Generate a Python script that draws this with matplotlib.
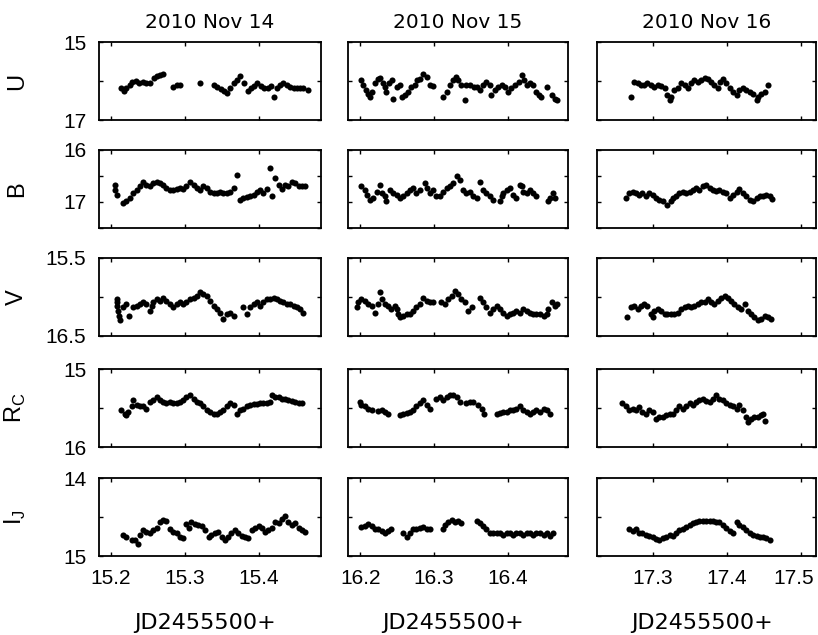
import matplotlib
matplotlib.use("Agg")
import matplotlib.pyplot as plt
import matplotlib.transforms as mtransforms

# night titles and axis limits
nights = ['2010 Nov 14', '2010 Nov 15', '2010 Nov 16']
jd_ranges = [(15.184, 15.484), (16.183, 16.482), (17.225, 17.52)]
jd_ticks = [[15.2, 15.3, 15.4], [16.2, 16.3, 16.4], [17.3, 17.4, 17.5]]

bands = ['U', 'B', 'V', r'R$_\mathregular{C}$', r'I$_\mathregular{J}$']
mag_ranges = [(15, 17), (16, 17.5), (15.5, 16.5), (15, 16), (14, 15)]
mag_ticks = [[15, 16, 17], [16, 16.5, 17, 17.5], [15.5, 16, 16.5], [15, 15.5, 16], [14, 14.5, 15]]
mag_ticklabels = [['15', '', '17'], ['16', '', '17', ''], ['15.5', '', '16.5'], ['15', '', '16'], ['14', '', '15']]

# ---- 2010 Nov 14 ----
jd_u14 = [15.214, 15.218, 15.221, 15.226, 15.229, 15.234, 15.238, 15.243, 15.248, 15.253,
          15.258, 15.263, 15.267, 15.271, 15.284, 15.289, 15.293, 15.320, 15.339, 15.344,
          15.349, 15.353, 15.357, 15.361, 15.366, 15.370, 15.375, 15.380, 15.385, 15.389,
          15.394, 15.398, 15.403, 15.407, 15.412, 15.416, 15.420, 15.424, 15.429, 15.433,
          15.438, 15.442, 15.447, 15.451, 15.456, 15.460, 15.466]
mag_u14 = [16.19, 16.25, 16.17, 16.11, 16.02, 16.00, 16.05, 16.02, 16.06, 16.05,
           15.91, 15.86, 15.85, 15.81, 16.15, 16.11, 16.11, 16.05, 16.11, 16.15,
           16.20, 16.25, 16.30, 16.17, 16.06, 15.98, 15.88, 16.06, 16.25, 16.18,
           16.13, 16.06, 16.13, 16.18, 16.17, 16.13, 16.40, 16.17, 16.10, 16.05,
           16.11, 16.15, 16.19, 16.17, 16.19, 16.17, 16.22]

jd_b14 = [15.205, 15.206, 15.208, 15.217, 15.220, 15.226, 15.230, 15.235, 15.239, 15.244,
          15.248, 15.253, 15.257, 15.262, 15.266, 15.271, 15.275, 15.280, 15.284, 15.289,
          15.293, 15.298, 15.302, 15.307, 15.312, 15.316, 15.321, 15.325, 15.330, 15.334,
          15.339, 15.343, 15.348, 15.352, 15.357, 15.361, 15.366, 15.370, 15.375, 15.379,
          15.384, 15.388, 15.393, 15.397, 15.402, 15.406, 15.411, 15.415, 15.418, 15.422,
          15.427, 15.431, 15.436, 15.440, 15.445, 15.449, 15.454, 15.458, 15.463]
mag_b14 = [16.67, 16.77, 16.86, 17.02, 16.99, 16.93, 16.83, 16.77, 16.70, 16.61,
           16.67, 16.70, 16.64, 16.61, 16.64, 16.67, 16.73, 16.77, 16.77, 16.75,
           16.73, 16.75, 16.70, 16.61, 16.67, 16.73, 16.77, 16.70, 16.73, 16.80,
           16.83, 16.83, 16.80, 16.83, 16.82, 16.80, 16.73, 16.48, 16.96, 16.93,
           16.91, 16.88, 16.86, 16.80, 16.77, 16.82, 16.75, 16.35, 16.89, 16.54,
           16.67, 16.75, 16.67, 16.70, 16.61, 16.64, 16.69, 16.69, 16.70]

jd_v14 = [15.208, 15.209, 15.209, 15.210, 15.211, 15.212, 15.217, 15.221, 15.225, 15.230,
          15.235, 15.239, 15.244, 15.248, 15.253, 15.255, 15.257, 15.262, 15.266, 15.271,
          15.275, 15.280, 15.284, 15.289, 15.293, 15.298, 15.302, 15.307, 15.312, 15.316,
          15.321, 15.325, 15.330, 15.334, 15.339, 15.343, 15.348, 15.352, 15.357, 15.361,
          15.366, 15.379, 15.384, 15.388, 15.393, 15.397, 15.402, 15.406, 15.411, 15.415,
          15.420, 15.424, 15.429, 15.433, 15.438, 15.442, 15.447, 15.451, 15.456, 15.460]
mag_v14 = [16.03, 16.07, 16.11, 16.18, 16.24, 16.30, 16.13, 16.09, 16.24, 16.13,
           16.11, 16.09, 16.07, 16.09, 16.18, 16.11, 16.07, 16.03, 16.05, 16.01,
           16.05, 16.09, 16.13, 16.09, 16.06, 16.09, 16.07, 16.03, 16.01, 15.99,
           15.94, 15.96, 15.99, 16.05, 16.11, 16.15, 16.20, 16.28, 16.22, 16.20,
           16.24, 16.13, 16.22, 16.13, 16.09, 16.07, 16.11, 16.07, 16.03, 16.03,
           16.01, 16.03, 16.05, 16.07, 16.09, 16.09, 16.11, 16.13, 16.15, 16.20]

jd_r14 = [15.214, 15.219, 15.221, 15.223, 15.228, 15.230, 15.235, 15.239, 15.244, 15.248,
          15.253, 15.257, 15.262, 15.266, 15.271, 15.275, 15.280, 15.284, 15.289, 15.293,
          15.298, 15.302, 15.307, 15.312, 15.316, 15.321, 15.325, 15.330, 15.334, 15.339,
          15.343, 15.348, 15.352, 15.357, 15.361, 15.366, 15.370, 15.375, 15.379, 15.384,
          15.388, 15.393, 15.397, 15.402, 15.406, 15.411, 15.415, 15.418, 15.422, 15.427,
          15.431, 15.436, 15.440, 15.445, 15.449, 15.454, 15.458]
mag_r14 = [15.53, 15.57, 15.59, 15.55, 15.48, 15.40, 15.46, 15.48, 15.48, 15.51,
           15.42, 15.40, 15.36, 15.40, 15.42, 15.44, 15.42, 15.44, 15.44, 15.42,
           15.40, 15.36, 15.33, 15.38, 15.42, 15.44, 15.48, 15.53, 15.55, 15.57,
           15.57, 15.55, 15.53, 15.48, 15.44, 15.46, 15.57, 15.53, 15.51, 15.48,
           15.46, 15.45, 15.45, 15.44, 15.44, 15.43, 15.42, 15.33, 15.36, 15.36,
           15.38, 15.38, 15.40, 15.41, 15.42, 15.44, 15.44]

jd_i14 = [15.217, 15.221, 15.228, 15.233, 15.237, 15.239, 15.244, 15.248, 15.253, 15.257,
          15.262, 15.266, 15.271, 15.275, 15.280, 15.284, 15.289, 15.293, 15.298, 15.302,
          15.305, 15.309, 15.314, 15.318, 15.323, 15.327, 15.332, 15.336, 15.341, 15.345,
          15.350, 15.354, 15.359, 15.363, 15.368, 15.372, 15.377, 15.381, 15.386, 15.391,
          15.395, 15.400, 15.404, 15.409, 15.413, 15.418, 15.422, 15.427, 15.431, 15.436,
          15.440, 15.445, 15.449, 15.454, 15.458, 15.463]
mag_i14 = [14.73, 14.76, 14.79, 14.79, 14.84, 14.73, 14.67, 14.69, 14.71, 14.67,
           14.64, 14.57, 14.54, 14.55, 14.66, 14.69, 14.71, 14.75, 14.77, 14.59,
           14.64, 14.56, 14.59, 14.60, 14.61, 14.67, 14.76, 14.73, 14.71, 14.69,
           14.76, 14.79, 14.75, 14.71, 14.67, 14.71, 14.74, 14.76, 14.77, 14.67,
           14.64, 14.61, 14.64, 14.69, 14.67, 14.64, 14.56, 14.58, 14.52, 14.49,
           14.56, 14.60, 14.58, 14.64, 14.67, 14.69]

# ---- 2010 Nov 15 ----
jd_u15 = [16.201, 16.204, 16.207, 16.210, 16.213, 16.215, 16.220, 16.224, 16.226, 16.230,
          16.233, 16.235, 16.239, 16.243, 16.244, 16.249, 16.254, 16.257, 16.260, 16.265,
          16.269, 16.274, 16.277, 16.281, 16.285, 16.290, 16.294, 16.299, 16.312, 16.317,
          16.322, 16.326, 16.330, 16.333, 16.337, 16.342, 16.344, 16.349, 16.354, 16.358,
          16.362, 16.367, 16.371, 16.376, 16.378, 16.383, 16.387, 16.392, 16.396, 16.401,
          16.405, 16.410, 16.415, 16.419, 16.422, 16.426, 16.430, 16.435, 16.439, 16.442,
          16.446, 16.453, 16.460, 16.464, 16.467]
mag_u15 = [15.98, 16.11, 16.23, 16.32, 16.40, 16.28, 16.06, 15.94, 15.91, 16.05,
           16.15, 16.28, 16.06, 15.98, 16.45, 16.15, 16.11, 16.40, 16.36, 16.28,
           16.15, 16.11, 15.98, 15.94, 15.83, 15.89, 16.11, 16.13, 16.40, 16.28,
           16.11, 15.98, 15.89, 15.98, 16.11, 16.49, 16.11, 16.11, 16.15, 16.15,
           16.23, 16.11, 16.02, 16.11, 16.36, 16.23, 16.15, 16.11, 16.15, 16.28,
           16.19, 16.11, 16.02, 15.85, 15.98, 16.11, 16.06, 16.11, 16.28, 16.36,
           16.40, 16.15, 16.36, 16.45, 16.49]

jd_b15 = [16.201, 16.206, 16.209, 16.213, 16.217, 16.222, 16.226, 16.229, 16.233, 16.235,
          16.240, 16.244, 16.249, 16.254, 16.258, 16.263, 16.267, 16.272, 16.276, 16.281,
          16.288, 16.291, 16.294, 16.299, 16.303, 16.308, 16.312, 16.317, 16.322, 16.326,
          16.331, 16.335, 16.340, 16.344, 16.349, 16.353, 16.358, 16.362, 16.367, 16.371,
          16.376, 16.380, 16.390, 16.392, 16.394, 16.399, 16.403, 16.408, 16.412, 16.417,
          16.419, 16.421, 16.426, 16.430, 16.435, 16.439, 16.455, 16.458, 16.462, 16.464]
mag_b15 = [16.70, 16.77, 16.86, 16.96, 16.93, 16.80, 16.67, 16.83, 16.89, 16.99,
           16.77, 16.83, 16.86, 16.93, 16.89, 16.83, 16.77, 16.73, 16.83, 16.77,
           16.64, 16.73, 16.83, 16.77, 16.89, 16.89, 16.80, 16.73, 16.70, 16.63,
           16.51, 16.57, 16.77, 16.83, 16.80, 16.89, 16.93, 16.61, 16.77, 16.83,
           16.89, 16.96, 16.99, 16.89, 16.83, 16.77, 16.73, 16.86, 16.93, 16.67,
           16.70, 16.80, 16.83, 16.77, 16.83, 16.89, 16.99, 16.93, 16.83, 16.93]

jd_v15 = [16.195, 16.197, 16.201, 16.206, 16.210, 16.215, 16.220, 16.224, 16.226, 16.229,
          16.233, 16.238, 16.242, 16.247, 16.249, 16.251, 16.254, 16.258, 16.263, 16.267,
          16.272, 16.276, 16.281, 16.285, 16.290, 16.294, 16.299, 16.310, 16.315, 16.319,
          16.324, 16.328, 16.333, 16.337, 16.342, 16.346, 16.351, 16.362, 16.367, 16.371,
          16.376, 16.380, 16.385, 16.390, 16.394, 16.399, 16.403, 16.408, 16.412, 16.417,
          16.421, 16.426, 16.430, 16.435, 16.439, 16.444, 16.449, 16.453, 16.455, 16.460,
          16.464, 16.467]
mag_v15 = [16.13, 16.07, 16.03, 16.05, 16.09, 16.11, 16.20, 16.09, 15.94, 16.03,
           16.09, 16.11, 16.15, 16.11, 16.15, 16.22, 16.26, 16.24, 16.22, 16.22,
           16.18, 16.13, 16.09, 16.01, 16.05, 16.07, 16.07, 16.07, 16.09, 16.03,
           15.99, 15.92, 15.96, 16.03, 16.07, 16.18, 16.13, 16.01, 16.07, 16.13,
           16.20, 16.15, 16.11, 16.15, 16.20, 16.24, 16.22, 16.20, 16.18, 16.20,
           16.15, 16.18, 16.20, 16.22, 16.22, 16.22, 16.24, 16.22, 16.15, 16.07,
           16.11, 16.09]

jd_r15 = [16.199, 16.201, 16.206, 16.210, 16.215, 16.224, 16.229, 16.233, 16.238, 16.254,
          16.258, 16.263, 16.267, 16.272, 16.276, 16.281, 16.285, 16.290, 16.294, 16.303,
          16.308, 16.312, 16.317, 16.322, 16.326, 16.331, 16.335, 16.344, 16.349, 16.353,
          16.360, 16.365, 16.368, 16.385, 16.390, 16.394, 16.399, 16.403, 16.408, 16.412,
          16.417, 16.421, 16.426, 16.430, 16.435, 16.439, 16.444, 16.449, 16.453, 16.458]
mag_r15 = [15.42, 15.46, 15.48, 15.51, 15.52, 15.54, 15.53, 15.55, 15.57, 15.59,
           15.57, 15.56, 15.55, 15.52, 15.48, 15.44, 15.40, 15.46, 15.51, 15.38,
           15.36, 15.40, 15.36, 15.33, 15.33, 15.36, 15.42, 15.44, 15.42, 15.42,
           15.46, 15.51, 15.57, 15.57, 15.56, 15.55, 15.55, 15.53, 15.53, 15.51,
           15.48, 15.52, 15.55, 15.57, 15.55, 15.53, 15.55, 15.51, 15.53, 15.57]

jd_i15 = [16.201, 16.206, 16.210, 16.215, 16.220, 16.224, 16.229, 16.233, 16.238, 16.242,
          16.258, 16.263, 16.267, 16.272, 16.276, 16.281, 16.285, 16.290, 16.294, 16.312,
          16.315, 16.319, 16.324, 16.328, 16.333, 16.337, 16.358, 16.362, 16.367, 16.371,
          16.376, 16.380, 16.385, 16.390, 16.394, 16.399, 16.403, 16.408, 16.412, 16.417,
          16.421, 16.426, 16.430, 16.435, 16.439, 16.444, 16.449, 16.453, 16.458, 16.462]
mag_i15 = [14.63, 14.61, 14.59, 14.62, 14.66, 14.66, 14.68, 14.70, 14.68, 14.66,
           14.71, 14.76, 14.70, 14.66, 14.66, 14.64, 14.63, 14.66, 14.66, 14.66,
           14.60, 14.56, 14.54, 14.57, 14.55, 14.58, 14.55, 14.58, 14.62, 14.66,
           14.70, 14.71, 14.71, 14.71, 14.73, 14.71, 14.71, 14.73, 14.71, 14.71,
           14.73, 14.71, 14.71, 14.73, 14.71, 14.71, 14.73, 14.71, 14.74, 14.70]

# ---- 2010 Nov 16 ----
jd_u16 = [17.271, 17.275, 17.280, 17.284, 17.289, 17.293, 17.298, 17.302, 17.307, 17.311,
          17.316, 17.320, 17.323, 17.325, 17.329, 17.334, 17.338, 17.343, 17.347, 17.352,
          17.356, 17.361, 17.365, 17.370, 17.374, 17.379, 17.383, 17.388, 17.391, 17.395,
          17.399, 17.404, 17.408, 17.413, 17.417, 17.422, 17.426, 17.431, 17.435, 17.440,
          17.442, 17.446, 17.451, 17.455]
mag_u16 = [16.40, 16.02, 16.06, 16.11, 16.11, 16.06, 16.11, 16.15, 16.11, 16.13,
           16.19, 16.36, 16.49, 16.40, 16.23, 16.17, 16.06, 16.11, 16.19, 16.06,
           15.98, 16.02, 15.98, 15.91, 15.94, 16.02, 16.11, 16.19, 16.02, 15.94,
           16.06, 16.19, 16.28, 16.36, 16.23, 16.19, 16.23, 16.28, 16.32, 16.49,
           16.40, 16.32, 16.28, 16.11]

jd_b16 = [17.264, 17.268, 17.273, 17.277, 17.282, 17.286, 17.291, 17.295, 17.300, 17.305,
          17.309, 17.314, 17.320, 17.325, 17.327, 17.332, 17.336, 17.341, 17.345, 17.350,
          17.354, 17.359, 17.363, 17.368, 17.372, 17.377, 17.381, 17.386, 17.390, 17.395,
          17.399, 17.404, 17.408, 17.413, 17.417, 17.422, 17.426, 17.431, 17.435, 17.440,
          17.444, 17.449, 17.453, 17.458, 17.461]
mag_b16 = [16.93, 16.83, 16.80, 16.83, 16.86, 16.83, 16.89, 16.83, 16.86, 16.93,
           16.96, 16.99, 17.05, 16.99, 16.93, 16.89, 16.83, 16.80, 16.82, 16.80,
           16.77, 16.73, 16.77, 16.70, 16.67, 16.73, 16.77, 16.78, 16.77, 16.80,
           16.83, 16.93, 16.86, 16.80, 16.75, 16.83, 16.89, 16.96, 16.99, 16.93,
           16.89, 16.89, 16.86, 16.89, 16.94]

jd_v16 = [17.266, 17.271, 17.275, 17.280, 17.284, 17.289, 17.293, 17.298, 17.300, 17.302,
          17.307, 17.311, 17.316, 17.320, 17.325, 17.329, 17.334, 17.338, 17.343, 17.347,
          17.352, 17.356, 17.361, 17.365, 17.370, 17.374, 17.379, 17.383, 17.388, 17.392,
          17.397, 17.401, 17.406, 17.410, 17.415, 17.419, 17.424, 17.428, 17.433, 17.437,
          17.442, 17.446, 17.451, 17.455, 17.460]
mag_v16 = [16.26, 16.13, 16.11, 16.15, 16.12, 16.09, 16.11, 16.22, 16.26, 16.18,
           16.15, 16.18, 16.22, 16.22, 16.22, 16.22, 16.20, 16.15, 16.13, 16.11,
           16.13, 16.11, 16.09, 16.07, 16.07, 16.03, 16.06, 16.09, 16.05, 16.02,
           15.99, 16.01, 16.05, 16.09, 16.13, 16.15, 16.09, 16.18, 16.22, 16.26,
           16.29, 16.28, 16.24, 16.26, 16.28]

jd_r16 = [17.259, 17.264, 17.268, 17.273, 17.277, 17.282, 17.286, 17.291, 17.295, 17.300,
          17.305, 17.309, 17.314, 17.318, 17.323, 17.327, 17.332, 17.336, 17.341, 17.345,
          17.350, 17.354, 17.359, 17.363, 17.368, 17.372, 17.377, 17.381, 17.386, 17.390,
          17.395, 17.399, 17.404, 17.408, 17.413, 17.417, 17.422, 17.426, 17.428, 17.433,
          17.437, 17.442, 17.446, 17.449, 17.451]
mag_r16 = [15.43, 15.48, 15.52, 15.51, 15.53, 15.49, 15.55, 15.57, 15.52, 15.55,
           15.64, 15.61, 15.61, 15.59, 15.57, 15.57, 15.53, 15.48, 15.51, 15.48,
           15.44, 15.46, 15.42, 15.40, 15.39, 15.41, 15.42, 15.38, 15.33, 15.38,
           15.40, 15.43, 15.46, 15.48, 15.51, 15.46, 15.53, 15.61, 15.68, 15.64,
           15.61, 15.61, 15.59, 15.57, 15.66]

jd_i16 = [17.268, 17.273, 17.277, 17.282, 17.286, 17.291, 17.295, 17.300, 17.305, 17.309,
          17.314, 17.318, 17.323, 17.327, 17.332, 17.336, 17.341, 17.345, 17.350, 17.354,
          17.359, 17.363, 17.368, 17.372, 17.377, 17.381, 17.386, 17.390, 17.395, 17.399,
          17.404, 17.408, 17.413, 17.417, 17.422, 17.426, 17.431, 17.435, 17.440, 17.444,
          17.449, 17.453, 17.458]
mag_i16 = [14.66, 14.68, 14.66, 14.70, 14.71, 14.73, 14.74, 14.76, 14.78, 14.80,
           14.77, 14.76, 14.73, 14.74, 14.71, 14.67, 14.66, 14.63, 14.60, 14.58,
           14.56, 14.55, 14.55, 14.55, 14.55, 14.55, 14.56, 14.57, 14.60, 14.64,
           14.68, 14.71, 14.56, 14.60, 14.63, 14.67, 14.70, 14.73, 14.74, 14.76,
           14.75, 14.77, 14.79]

grid = [
    [(jd_u14, mag_u14), (jd_u15, mag_u15), (jd_u16, mag_u16)],
    [(jd_b14, mag_b14), (jd_b15, mag_b15), (jd_b16, mag_b16)],
    [(jd_v14, mag_v14), (jd_v15, mag_v15), (jd_v16, mag_v16)],
    [(jd_r14, mag_r14), (jd_r15, mag_r15), (jd_r16, mag_r16)],
    [(jd_i14, mag_i14), (jd_i15, mag_i15), (jd_i16, mag_i16)],
]

tickfont = ['Liberation Sans', 'DejaVu Sans']

fig = plt.figure(figsize=(8.18, 6.35), dpi=100)

lefts = [0.1210, 0.4254, 0.7298]
widths = [0.2714, 0.2689, 0.2677]
bottoms = [0.811, 0.641, 0.471, 0.296, 0.1244]
h = 0.1228

for r in range(5):
    for c in range(3):
        ax = fig.add_axes([lefts[c], bottoms[r], widths[c], h])
        x, y = grid[r][c]
        ax.plot(x, y, 'o', color='black', ms=4.4, mew=0)
        ax.set_xlim(jd_ranges[c])
        ax.set_ylim(mag_ranges[r][1], mag_ranges[r][0])
        ax.set_xticks(jd_ticks[c])
        ax.set_yticks(mag_ticks[r])
        ax.tick_params(direction='in', length=3, width=1, top=True, right=True,
                       labelsize=15, pad=9)
        for s in ax.spines.values():
            s.set_linewidth(1.3)

        if c == 0:
            ax.set_yticklabels(mag_ticklabels[r], family=tickfont)
            ax.set_ylabel(bands[r], fontsize=17, family=tickfont)
            ax.yaxis.set_label_coords(-0.32, 0.5)
        else:
            ax.set_yticklabels([])

        if r == 4:
            labels = ax.set_xticklabels([f'{t:.1f}' for t in jd_ticks[c]], family=tickfont)
            ax.set_xlabel('JD2455500+', fontsize=16)
            ax.xaxis.set_label_coords(0.48, -0.73)
            if c == 2:
                # last label sits on the figure edge, nudge it left a little
                shift = mtransforms.ScaledTranslation(-5 / 72, 0, fig.dpi_scale_trans)
                labels[-1].set_transform(labels[-1].get_transform() + shift)
        else:
            ax.set_xticklabels([])

        if r == 0:
            ax.set_title(nights[c], fontsize=14.5, pad=10)

plt.savefig('out.png', dpi=100)
